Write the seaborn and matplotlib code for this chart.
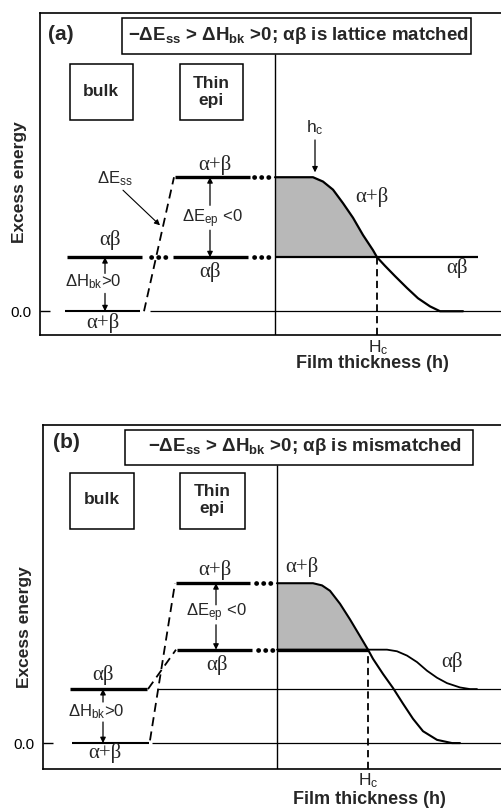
import matplotlib
matplotlib.use("Agg")
import matplotlib.pyplot as plt
import seaborn as sns
import pandas as pd
from matplotlib.patches import Rectangle

# ---------------- data (energies in units of the bulk enthalpy step) ----------------
# panel (a): alpha-beta lattice matched
a_bulk_E = [1.0, 0.0]          # bulk: αβ, α+β
a_epi_E = [2.48, 1.0]          # thin epi: α+β, αβ
a_h_apb = [275, 313, 323, 333, 343, 353, 363, 373, 377, 385, 395, 407, 418, 430, 440, 463]
a_E_apb = [2.48, 2.48, 2.40, 2.25, 2.00, 1.73, 1.41, 1.13, 1.00, 0.84, 0.65, 0.43, 0.24, 0.09, 0.0, 0.0]
a_Hc = 377

# panel (b): alpha-beta mismatched
b_bulk_E = [1.0, 0.0]
b_epi_E = [2.96, 1.73]
b_h_apb = [277, 313, 322, 330, 340, 350, 360, 368, 373, 383, 393, 403, 413, 423, 437, 452, 460]
b_E_apb = [2.96, 2.96, 2.92, 2.82, 2.58, 2.29, 1.98, 1.73, 1.56, 1.28, 1.02, 0.73, 0.45, 0.22, 0.06, 0.0, 0.0]
b_h_ab = [277, 387, 397, 407, 417, 427, 437, 447, 460, 470, 477]
b_E_ab = [1.73, 1.73, 1.70, 1.62, 1.50, 1.34, 1.21, 1.11, 1.03, 1.00, 1.00]
b_Hc = 368

titles = ["\u2212\u0394E$_{\\mathregular{ss}}$ > \u0394H$_{\\mathregular{bk}}$ >0; \u03b1\u03b2 is lattice matched",
          "\u2212\u0394E$_{\\mathregular{ss}}$ > \u0394H$_{\\mathregular{bk}}$ >0; \u03b1\u03b2 is mismatched"]
panel_tags = ["(a)", "(b)"]

# ---------------- style ----------------
sns.set_theme(style="white")
plt.rcParams["font.family"] = ["Liberation Sans", "DejaVu Sans"]
plt.rcParams["mathtext.default"] = "regular"
SERIF = ["Liberation Serif", "DejaVu Serif"]

W, H = 502, 810
fig = plt.figure(figsize=(W / 100, H / 100), dpi=100)


def fx(x):
    return x / W


def fy(y):
    return 1 - y / H


def box(x0, y0, x1, y1):
    fig.patches.append(Rectangle((fx(x0), fy(y1)), fx(x1) - fx(x0), fy(y0) - fy(y1),
                                 transform=fig.transFigure, fill=False, ec="black", lw=1.1))


def make_axes(left, top, bottom, ylo, yhi):
    ax = fig.add_axes([fx(left), fy(bottom), fx(520) - fx(left), fy(top) - fy(bottom)])
    ax.set_xlim(left, 520)
    ax.set_ylim(ylo, yhi)
    for s in ["left", "top", "bottom"]:
        ax.spines[s].set_color("black")
        ax.spines[s].set_linewidth(1.2)
    ax.spines["right"].set_visible(False)
    return ax


def finish_axes(ax, ylo, yhi, left):
    ax.set_xlim(left, 520)
    ax.set_ylim(ylo, yhi)
    ax.set_xticks([])
    ax.set_yticks([0])
    ax.set_yticklabels(["0.0"])
    ax.tick_params(axis="y", direction="in", length=7, width=1, labelsize=11, pad=6, left=True, colors="black")
    ax.set_xlabel("")
    ax.set_ylabel("")


def curve(ax, h, E, lw):
    df = pd.DataFrame({"h": h, "E": E})
    sns.lineplot(data=df, x="h", y="E", ax=ax, color="black", lw=lw, estimator=None, sort=False)


def dots(ax, x0, x1, y):
    ax.plot([x0, x1], [y, y], color="black", lw=3.4, ls=(0, (0.05, 1.45)), dash_capstyle="round")


def greek(ax, x, y, s):
    ax.text(x, y, s, ha="center", va="center", fontsize=15, family=SERIF, clip_on=False)


def darrow(ax, x, y_from, y_to):
    ax.annotate("", xy=(x, y_to), xytext=(x, y_from),
                arrowprops=dict(arrowstyle="-|>", color="black", lw=0.9, mutation_scale=8,
                                shrinkA=0, shrinkB=0))


# ================= panel (a) =================
ax = make_axes(40, 13, 335, -0.44, 5.52)
ab, apb = a_bulk_E
e_apb, e_ab = a_epi_E
ax.hlines(apb, 65, 140, color="black", lw=1.5)
ax.hlines(apb, 150, 520, color="black", lw=0.9)
ax.hlines(ab, 67, 142, color="black", lw=2.4)
dots(ax, 151, 168, ab)
ax.hlines(e_ab, 173, 248, color="black", lw=2.4)
dots(ax, 254, 272, e_ab)
ax.hlines(e_apb, 175, 250, color="black", lw=2.4)
dots(ax, 254, 272, e_apb)
ax.hlines(e_ab, 275, 478, color="black", lw=1.6)
ax.plot([144, 174], [apb, e_apb], color="black", lw=1.3, ls=(0, (5, 3)))
ax.vlines(275, -0.44, (311 - 54) / 54, color="black", lw=1.0)
n = a_h_apb.index(a_Hc) + 1
ax.fill_between(a_h_apb[:n], a_E_apb[:n], e_ab, color="#b8b8b8", lw=0)
curve(ax, a_h_apb, a_E_apb, 1.6)
ax.vlines(a_Hc, -0.44, e_ab, color="black", lw=1.3, ls=(0, (4, 2.5)))
finish_axes(ax, -0.44, 5.52, 40)

greek(ax, 110, 1.31, "\u03b1\u03b2")
greek(ax, 103, -0.22, "\u03b1+\u03b2")
greek(ax, 215, 2.70, "\u03b1+\u03b2")
greek(ax, 210, 0.72, "\u03b1\u03b2")
greek(ax, 372, 2.11, "\u03b1+\u03b2")
greek(ax, 457, 0.80, "\u03b1\u03b2")

darrow(ax, 105, 0.70, ab)
darrow(ax, 105, 0.33, apb)
ax.text(93, 0.54, "\u0394H$_{bk}$>0", ha="center", va="center", fontsize=12)
darrow(ax, 210, 1.96, e_apb)
darrow(ax, 210, 1.50, e_ab)
ax.text(212, 1.72, "\u0394E$_{ep}$ <0", ha="center", va="center", fontsize=12)
ax.text(115, 2.46, "\u0394E$_{ss}$", ha="center", va="center", fontsize=12)
ax.annotate("", xy=(160, 1.59), xytext=(123, 2.24),
            arrowprops=dict(arrowstyle="-|>", color="black", lw=0.8, mutation_scale=8, shrinkA=0, shrinkB=0))
ax.text(315, 3.40, "h$_{c}$", ha="center", va="center", fontsize=12.5)
darrow(ax, 315, 3.17, 2.57)
ax.text(378, -0.67, "H$_{c}$", ha="center", va="center", fontsize=12.5, clip_on=False)

box(122, 18, 471, 54)
fig.text(fx(298), fy(36), titles[0], ha="center", va="center", fontsize=13.5, fontweight="bold")
fig.text(fx(61), fy(34), panel_tags[0], ha="center", va="center", fontsize=15, fontweight="bold")
box(70, 64, 133, 120)
fig.text(fx(101), fy(92), "bulk", ha="center", va="center", fontsize=12.5, fontweight="bold")
box(180, 64, 243, 120)
fig.text(fx(211), fy(92), "Thin\nepi", ha="center", va="center", fontsize=12.5, fontweight="bold",
         linespacing=1.15)
fig.text(fx(20), fy(182), "Excess energy", ha="center", va="center", rotation=90, fontsize=12.5,
         fontweight="bold")
fig.text(fx(372), fy(364), "Film thickness (h)", ha="center", va="center", fontsize=13, fontweight="bold")

# ================= panel (b) =================
ax = make_axes(43, 425, 769, -0.48, 5.89)
ab, apb = b_bulk_E
e_apb, e_ab = b_epi_E
ax.hlines(apb, 72, 149, color="black", lw=1.5)
ax.hlines(apb, 152, 520, color="black", lw=0.9)
ax.hlines(ab, 70, 147, color="black", lw=2.4)
ax.hlines(ab, 157, 520, color="black", lw=0.9)
ax.plot([148, 176], [ab, e_ab], color="black", lw=1.3, ls=(0, (5, 3)))
ax.plot([150, 175], [apb + 0.05, e_apb], color="black", lw=1.3, ls=(0, (5, 3)))
ax.hlines(e_ab, 177, 252, color="black", lw=2.4)
dots(ax, 258, 275, e_ab)
ax.hlines(e_apb, 176, 250, color="black", lw=2.4)
dots(ax, 256, 274, e_apb)
ax.vlines(277, -0.48, (743 - 465) / 54, color="black", lw=1.0)
n = b_h_apb.index(b_Hc) + 1
ax.fill_between(b_h_apb[:n], b_E_apb[:n], e_ab, color="#b8b8b8", lw=0)
ax.hlines(e_ab, 277, b_Hc, color="black", lw=2.4)
curve(ax, b_h_ab, b_E_ab, 1.3)
curve(ax, b_h_apb, b_E_apb, 1.5)
ax.vlines(b_Hc, -0.48, e_ab, color="black", lw=1.3, ls=(0, (4, 2.5)))
finish_axes(ax, -0.48, 5.89, 43)

greek(ax, 103, 1.26, "\u03b1\u03b2")
greek(ax, 105, -0.19, "\u03b1+\u03b2")
greek(ax, 215, 3.20, "\u03b1+\u03b2")
greek(ax, 217, 1.44, "\u03b1\u03b2")
greek(ax, 302, 3.26, "\u03b1+\u03b2")
greek(ax, 452, 1.50, "\u03b1\u03b2")

darrow(ax, 103, 0.76, ab)
darrow(ax, 103, 0.39, apb)
ax.text(96, 0.59, "\u0394H$_{bk}$>0", ha="center", va="center", fontsize=12)
darrow(ax, 216, 2.56, e_apb)
darrow(ax, 216, 2.19, e_ab)
ax.text(216, 2.41, "\u0394E$_{ep}$ <0", ha="center", va="center", fontsize=12)
ax.text(368, -0.70, "H$_{c}$", ha="center", va="center", fontsize=12.5, clip_on=False)

box(125, 430, 473, 465)
fig.text(fx(305), fy(447), titles[1], ha="center", va="center", fontsize=13.5, fontweight="bold")
fig.text(fx(66), fy(442), panel_tags[1], ha="center", va="center", fontsize=15, fontweight="bold")
box(70, 473, 134, 529)
fig.text(fx(102), fy(500), "bulk", ha="center", va="center", fontsize=12.5, fontweight="bold")
box(180, 473, 245, 529)
fig.text(fx(212), fy(500), "Thin\nepi", ha="center", va="center", fontsize=12.5, fontweight="bold",
         linespacing=1.15)
fig.text(fx(25), fy(627), "Excess energy", ha="center", va="center", rotation=90, fontsize=12.5,
         fontweight="bold")
fig.text(fx(369), fy(800), "Film thickness (h)", ha="center", va="center", fontsize=13, fontweight="bold")

fig.savefig("out.png", dpi=100)
